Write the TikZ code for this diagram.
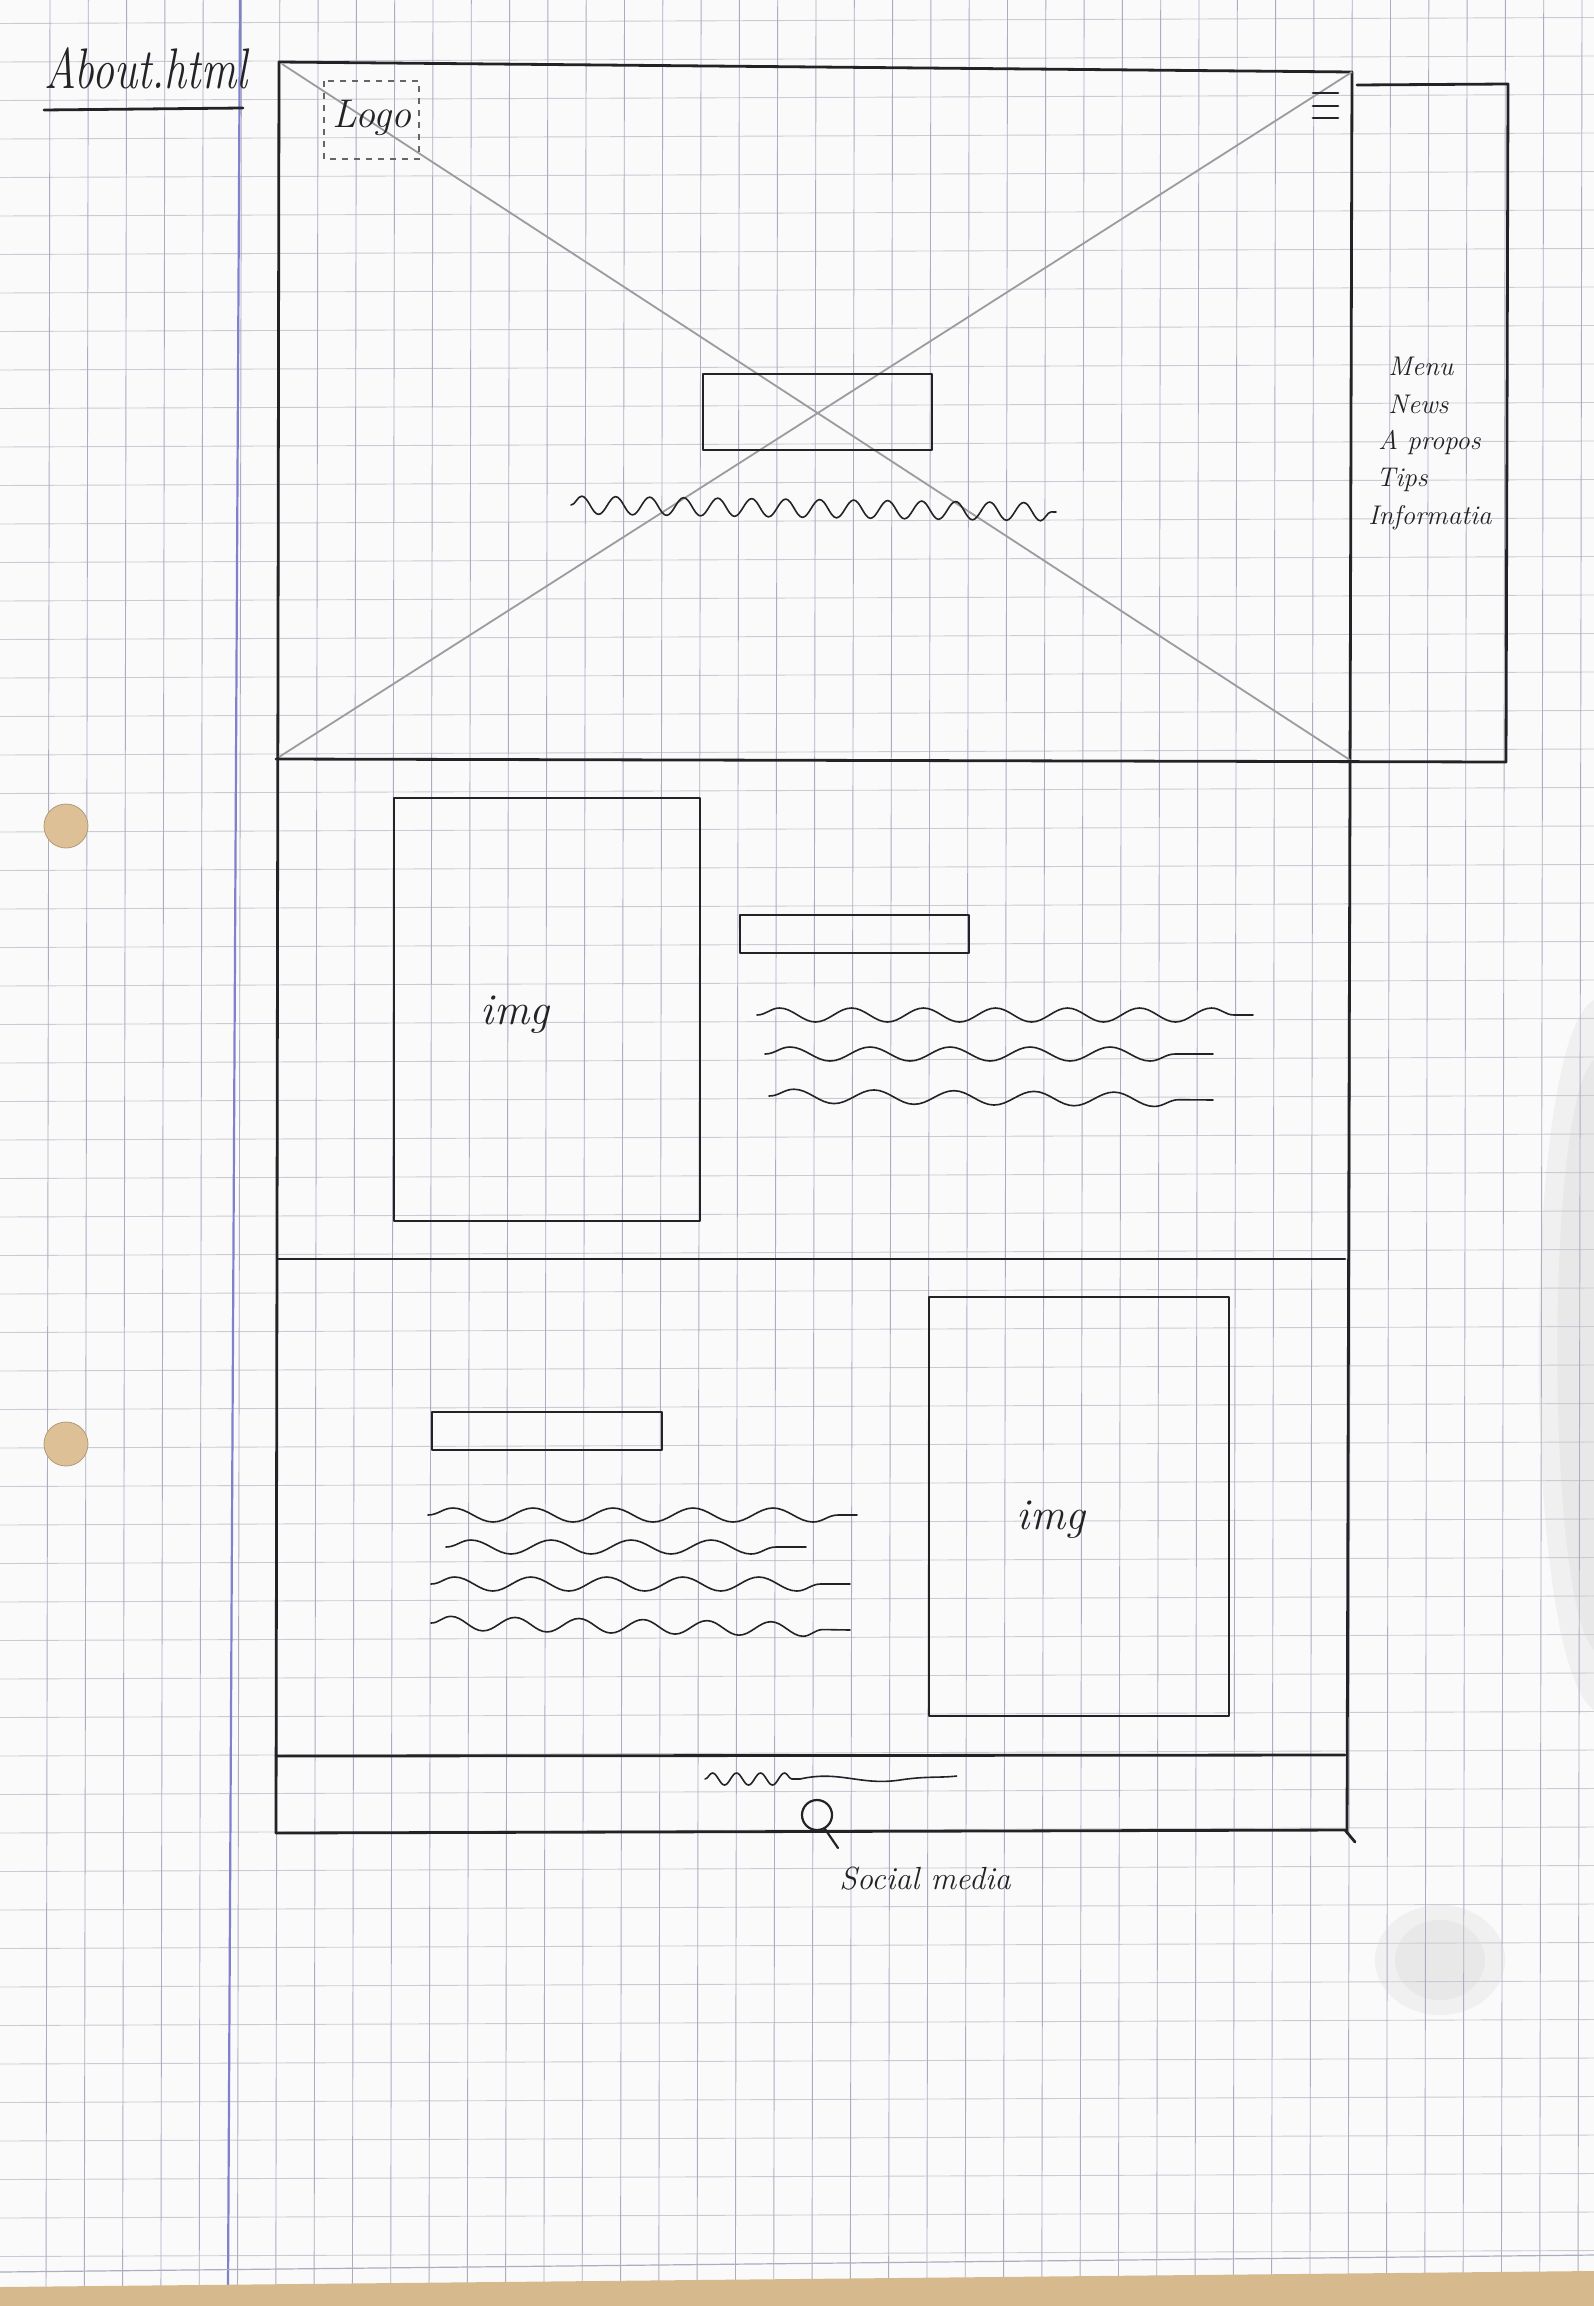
\documentclass[tikz,border=0pt]{standalone}
\usetikzlibrary{decorations.pathmorphing}
\definecolor{paper}{RGB}{250,250,251}
\definecolor{gridv}{RGB}{172,174,192}
\definecolor{gridh}{RGB}{202,203,212}
\definecolor{marginc}{RGB}{128,128,205}
\definecolor{ink}{RGB}{35,35,38}
\definecolor{pencil}{RGB}{155,155,160}
\definecolor{wood}{RGB}{214,186,142}
\definecolor{holec}{RGB}{222,192,150}
\begin{document}
\begin{tikzpicture}[x=0.5pt,y=-0.5pt,
  pen/.style={draw=ink, line width=1.4pt, line join=round, line cap=round},
  pencilline/.style={draw=pencil, line width=0.9pt},
  wave/.style={draw=ink, line width=0.8pt, line cap=round, decorate, decoration={snake, segment length=#1, amplitude=3.5pt}},
  hand/.style={font=\itshape, text=ink, inner sep=0pt}]
\useasboundingbox (0,0) rectangle (1594,2306);
\fill[paper] (0,0) rectangle (1594,2306);
% soft shadows
\fill[black,opacity=0.04] (1594,1000) .. controls (1520,1040) and (1520,1660) .. (1594,1710) -- cycle;
\fill[black,opacity=0.03] (1594,1060) .. controls (1545,1100) and (1545,1600) .. (1594,1650) -- cycle;
\fill[black,opacity=0.04] (1440,1960) ellipse (65 and 55);
\fill[black,opacity=0.03] (1440,1960) ellipse (45 and 40);
% grid
\foreach \j in {-1,...,57}{\draw[gridh,line width=0.45pt] (0,{62+38.5*\j}) -- (1594,{62+38.5*\j-6});}
\foreach \i in {0,...,40}{\draw[gridv,line width=0.45pt] ({50+38.3*\i},0) -- ({50+38.3*\i-4},2306);}
% margin line
\draw[marginc,line width=1.1pt] (240,0) -- (228,2290);
% holes
\foreach \y in {826,1444}{\fill[holec] (66,\y) circle (22); \draw[holec!80!black,line width=0.4pt] (66,\y) circle (22);}
% wood at bottom
\fill[wood] (0,2287) -- (1594,2271) -- (1594,2306) -- (0,2306) -- cycle;
\draw[gridv,line width=0.6pt] (0,2272) -- (1594,2255);
% title
\node[hand] (title) at (146,68) {\scalebox{1}[1.3]{\fontsize{22}{24}\selectfont\itshape About.html}};
\draw[pen] (44,110) -- (243,108);
% page frame
\draw[pen] (1352,72) -- (279,62) -- (276,1833);
\draw[pen] (1352,72) -- (1347,1833);
% X lines in pencil
\draw[pencilline] (282,64) -- (1350,760);
\draw[pencilline] (279,757) -- (1352,72);
% hero bottom and menu panel
\draw[pen] (276,759) -- (1506,762);
\draw[pen] (1357,85) -- (1508,84) -- (1506,762);
% logo
\draw[draw=ink!70,line width=0.6pt,dashed] (324,81) rectangle (419,159);
\node[hand,font=\fontsize{20}{22}\selectfont\itshape] (logo) at (372,118) {Logo};
% hamburger
\foreach \y in {93,106,118}{\draw[pen] (1313,\y) -- (1338,\y);}
% menu entries
\node[hand,anchor=west,font=\fontsize{13.5}{15}\selectfont\itshape] (m1) at (1388,366) {Menu};
\node[hand,anchor=west,font=\fontsize{13.5}{15}\selectfont\itshape] (m2) at (1388,404) {News};
\node[hand,anchor=west,font=\fontsize{13.5}{15}\selectfont\itshape] (m3) at (1378,442) {A propos};
\node[hand,anchor=west,font=\fontsize{13.5}{15}\selectfont\itshape] (m4) at (1376,480) {Tips};
\node[hand,anchor=west,font=\fontsize{13.5}{15}\selectfont\itshape] (m5) at (1368,518) {Informatia};
% hero title box and text
\draw[pen] (703,374) rectangle (932,450);
\draw[draw=ink, line width=0.8pt, line cap=round, decorate, decoration={snake, segment length=17pt, amplitude=4.5pt}] (571,505) -- (1056,512);
% section 2
\draw[pen] (278,1259) -- (1345,1259);
\draw[pen] (394,798) rectangle (700,1221);
\node[hand,font=\fontsize{22}{24}\selectfont\itshape] (img1) at (515,1015) {img};
\draw[pen] (740,915) rectangle (969,953);
\draw[wave=36pt] (757,1015) -- (1253,1015);
\draw[wave=40pt] (765,1054) -- (1213,1054);
\draw[wave=40pt] (769,1096) -- (1213,1100);
% section 3
\draw[pen] (929,1297) rectangle (1229,1716);
\node[hand,font=\fontsize{22}{24}\selectfont\itshape] (img2) at (1051,1520) {img};
\draw[pen] (432,1412) rectangle (662,1450);
\draw[wave=40pt] (428,1515) -- (857,1515);
\draw[wave=40pt] (446,1547) -- (806,1547);
\draw[wave=38pt] (431,1584) -- (850,1584);
\draw[wave=32pt] (431,1623) -- (850,1630);
% footer
\draw[pen] (276,1756) -- (1345,1755);
\draw[pen] (276,1833) -- (1345,1830) -- (1355,1842);
\draw[draw=ink, line width=0.8pt, line cap=round, decorate, decoration={snake, segment length=12pt, amplitude=3pt}] (705,1779) -- (800,1779);
\draw[draw=ink,line width=0.8pt] (800,1779) .. controls (840,1770) and (860,1786) .. (900,1780) .. controls (925,1776) and (940,1778) .. (957,1776);
\draw[pen,line width=1.1pt] (817,1815) circle (15);
\draw[pen,line width=1.1pt] (825,1829) -- (838,1848);
\node[hand,font=\fontsize{16}{18}\selectfont\itshape] (social) at (925,1879) {Social media};
\end{tikzpicture}
\end{document}
